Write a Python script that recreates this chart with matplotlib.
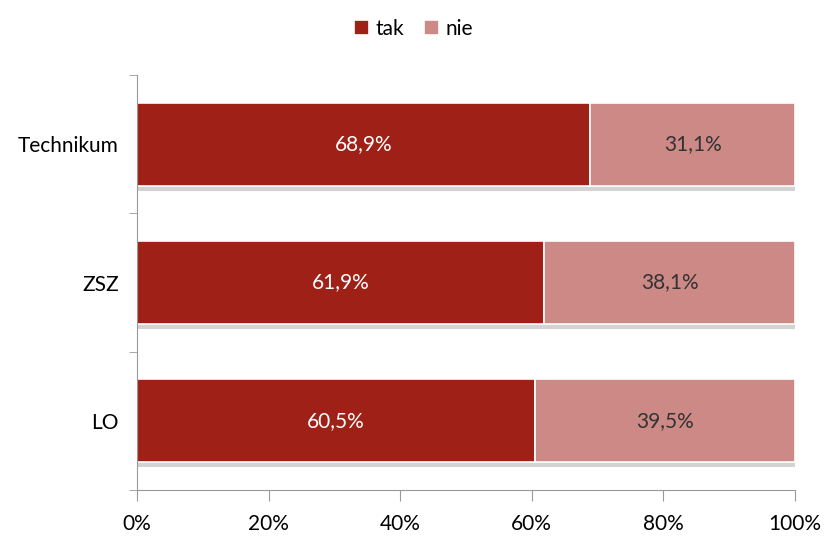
import numpy as np
import matplotlib.pyplot as plt
from matplotlib.ticker import FuncFormatter

# ----------------------------
# Data
# ----------------------------
categories = ["LO", "ZSZ", "Technikum"]
tak = [60.5, 61.9, 68.9]
nie = [39.5, 38.1, 31.1]
series_names = ["tak", "nie"]

plt.rcParams['font.family'] = ['Lato', 'DejaVu Sans']

fig = plt.figure(figsize=(8.27, 5.36), dpi=100)
ax = fig.add_axes([0.1657, 0.0858, 0.7956, 0.7742])

y = np.arange(len(categories))
h = 0.6

# shadow under each bar
ax.barh(y - 0.035, np.array(tak) + np.array(nie), height=h, color="#b0b0b0",
        alpha=0.55, zorder=1)

ax.barh(y, tak, height=h, color="#9E2016", edgecolor="white", linewidth=1.2,
        label=series_names[0], zorder=2)
ax.barh(y, nie, left=tak, height=h, color="#CD8985", edgecolor="white",
        linewidth=1.2, label=series_names[1], zorder=2)

for i in range(len(categories)):
    ax.text(tak[i] / 2, y[i], f"{tak[i]:.1f}%".replace(".", ","),
            ha="center", va="center", color="white", fontsize=15, zorder=3)
    ax.text(tak[i] + nie[i] / 2, y[i], f"{nie[i]:.1f}%".replace(".", ","),
            ha="center", va="center", color="#333333", fontsize=15, zorder=3)

ax.set_xlim(0, 100)
ax.set_ylim(-0.5, len(categories) - 0.5)
ax.set_xticks([0, 20, 40, 60, 80, 100])
ax.xaxis.set_major_formatter(FuncFormatter(lambda v, p: f"{v:.0f}%"))
ax.set_yticks(y)
ax.set_yticklabels(categories)
ax.set_yticks(np.arange(-0.5, len(categories)), minor=True)

ax.tick_params(axis="x", length=8, color="#999999", labelsize=15, pad=9)
ax.tick_params(axis="y", which="major", length=0, labelsize=15, pad=13)
ax.tick_params(axis="y", which="minor", length=6, color="#999999")

for s in ["top", "right"]:
    ax.spines[s].set_visible(False)
ax.spines["left"].set_color("#999999")
ax.spines["bottom"].set_color("#999999")

leg = fig.legend(loc="upper center", bbox_to_anchor=(0.5, 1.0), ncol=2,
                 frameon=False, fontsize=15, handlelength=0.7, handleheight=0.7,
                 handletextpad=0.3, columnspacing=1.0)

plt.savefig("out.png", dpi=100)
